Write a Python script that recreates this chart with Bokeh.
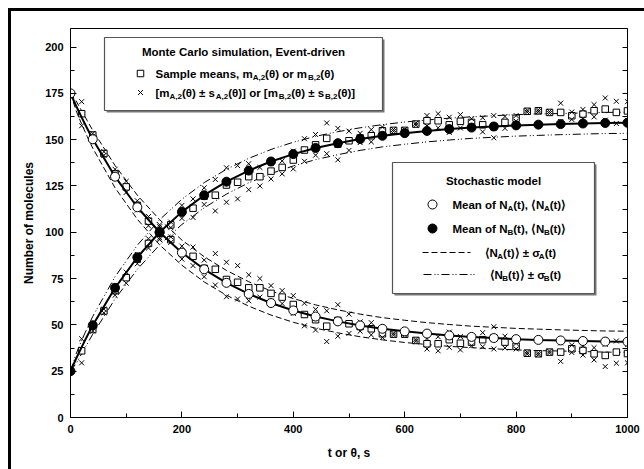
from bokeh.plotting import figure
from bokeh.models import Range1d, LinearAxis, SingleIntervalTicker, FixedTicker
from bokeh.core.properties import value
from bokeh.embed import file_html
from bokeh.resources import INLINE

# ---------------- data ----------------
# Stochastic model: mean of N_A(t), N_B(t) (markers every 40 s)
t_mean = [0, 40, 80, 120, 160, 200, 240, 280, 320, 360, 400, 440, 480, 520, 560,
          600, 640, 680, 720, 760, 800, 840, 880, 920, 960, 1000]
na_mean = [175.0, 150.2, 130.0, 113.5, 100.0, 89.0, 80.0, 72.7, 66.7, 61.8, 57.8, 54.5, 51.9,
           49.7, 47.9, 46.5, 45.3, 44.3, 43.5, 42.9, 42.3, 41.9, 41.6, 41.3, 41.0, 40.9]
nb_mean = [25.0, 49.8, 70.0, 86.5, 100.0, 111.0, 120.0, 127.3, 133.3, 138.2, 142.2, 145.5, 148.1,
           150.3, 152.1, 153.5, 154.7, 155.7, 156.5, 157.1, 157.7, 158.1, 158.4, 158.7, 159.0, 159.1]

# Stochastic model curves and standard deviation band
t_band = [0, 10, 20, 30, 40, 80, 120, 160, 200, 240, 280, 320, 360, 400, 440, 480, 520,
          560, 600, 640, 680, 720, 760, 800, 840, 880, 920, 960, 1000]
na_band = [175.0, 168.3, 162.0, 156.0, 150.2, 130.0, 113.5, 100.0, 89.0, 80.0, 72.7, 66.7, 61.8,
           57.8, 54.5, 51.9, 49.7, 47.9, 46.5, 45.3, 44.3, 43.5, 42.9, 42.3, 41.9, 41.6, 41.3, 41.0, 40.9]
nb_band = [25.0, 31.7, 38.0, 44.0, 49.8, 70.0, 86.5, 100.0, 111.0, 120.0, 127.3, 133.3, 138.2,
           142.2, 145.5, 148.1, 150.3, 152.1, 153.5, 154.7, 155.7, 156.5, 157.1, 157.7, 158.1, 158.4,
           158.7, 159.0, 159.1]
sigma_band = [0.0, 2.6, 3.6, 4.3, 4.8, 6.0, 6.5, 6.8, 6.8, 6.8, 6.7, 6.6, 6.5, 6.4, 6.3, 6.2, 6.1,
              6.0, 6.0, 5.9, 5.9, 5.8, 5.8, 5.8, 5.8, 5.7, 5.7, 5.7, 5.7]

# Monte Carlo simulation (event-driven): sample means and sample std devs, every 20 s
t_mc = [20, 40, 60, 80, 100, 120, 140, 160, 180, 200, 220, 240, 260, 280, 300, 320, 340, 360,
        380, 400, 420, 440, 460, 480, 500, 520, 540, 560, 580, 600, 620, 640, 660, 680, 700, 720,
        740, 760, 780, 800, 820, 840, 860, 880, 900, 920, 940, 960, 980, 1000]
mc_a_mean = [164.0, 152.5, 142.5, 131.5, 124.5, 114.5, 106.0, 99.5, 96.0, 89.0,
             87.0, 80.5, 80.0, 74.5, 73.0, 70.0, 70.0, 67.0, 65.0, 61.0,
             55.6, 52.8, 49.3, 52.4, 50.6, 49.1, 47.9, 45.2, 45.0, 45.0,
             41.6, 39.8, 39.8, 42.0, 40.1, 40.7, 42.0, 43.0, 40.7, 38.5,
             34.7, 34.4, 35.3, 35.3, 37.1, 36.2, 34.4, 33.5, 35.3, 34.5]
mc_a_sd = [6.5, 0.8, 1.0, 2.5, 3.0, 2.5, 2.5, 3.5, 1.5, 3.5,
           5.0, 4.5, 8.5, 9.3, 9.0, 7.0, 5.0, 4.2, 3.5, 4.8,
           6.1, 5.6, 8.3, 8.5, 5.2, 2.5, 3.3, 2.0, 0.5, 0.5,
           0.5, 2.8, 3.8, 4.1, 3.6, 2.0, 3.8, 6.0, 3.2, 1.5,
           0.5, 0.5, 0.5, 5.0, 2.0, 2.5, 3.3, 6.0, 6.0, 5.0]
mc_b_mean = [36.0, 47.5, 57.5, 68.5, 75.5, 85.5, 94.0, 100.5, 104.0, 111.0,
             113.0, 119.5, 120.0, 125.5, 127.0, 130.0, 130.0, 133.0, 135.0, 139.0,
             144.4, 147.2, 150.7, 147.6, 149.4, 150.9, 152.1, 154.8, 155.0, 155.0,
             158.4, 160.2, 160.2, 158.0, 159.9, 159.3, 158.0, 157.0, 159.3, 161.5,
             165.3, 165.6, 164.7, 164.7, 162.9, 163.8, 165.6, 166.5, 164.7, 165.5]
mc_b_sd = [6.5, 0.8, 1.0, 2.5, 3.0, 2.5, 2.5, 3.5, 1.5, 3.5,
           5.0, 4.5, 8.5, 9.3, 9.0, 7.0, 5.0, 4.2, 3.5, 4.8,
           6.1, 5.6, 8.3, 8.5, 5.2, 2.5, 3.3, 2.0, 0.5, 0.5,
           0.5, 2.8, 3.8, 4.1, 3.6, 2.0, 3.8, 6.0, 3.2, 1.5,
           0.5, 0.5, 0.5, 5.0, 2.0, 2.5, 3.3, 6.0, 6.0, 5.0]

x_label = "t or θ, s"
y_label = "Number of molecules"

# ---------------- figure ----------------
FONT = "Liberation Sans"
FW, FH = 557, 389
BL, BR, BT, BB = 59, 17, 17, 52
XMAX, YMAX = 1000, 210

p = figure(frame_width=FW, frame_height=FH,
           x_range=Range1d(0, XMAX), y_range=Range1d(0, YMAX),
           output_backend="svg", toolbar_location=None,
           min_border_left=BL, min_border_right=BR, min_border_top=BT, min_border_bottom=BB)
p.margin = (8, 0, 0, 8)
p.styles = {"border-left": "3px solid black", "border-top": "3px solid black"}
p.xgrid.visible = False
p.ygrid.visible = False
p.outline_line_color = "black"
p.outline_line_width = 1
p.background_fill_color = "white"
p.border_fill_color = "white"

def style_axis(ax):
    ax.major_tick_in = 6
    ax.major_tick_out = 0
    ax.minor_tick_in = 4
    ax.minor_tick_out = 0
    ax.axis_line_color = "black"
    ax.major_tick_line_color = "black"
    ax.minor_tick_line_color = "black"
    ax.major_label_text_font = FONT
    ax.major_label_text_font_style = "bold"
    ax.major_label_text_font_size = "11px"
    ax.major_label_text_color = "black"
    ax.axis_label_text_font = FONT
    ax.axis_label_text_font_style = "bold"
    ax.axis_label_text_font_size = "12px"
    ax.axis_label_text_color = "black"

xa = p.xaxis[0]
style_axis(xa)
xa.ticker = SingleIntervalTicker(interval=200, num_minor_ticks=2)
xa.axis_label = x_label
xa.major_label_standoff = 7
xa.axis_label_standoff = 10
ya = p.yaxis[0]
style_axis(ya)
ya.ticker = SingleIntervalTicker(interval=25, num_minor_ticks=2)
ya.axis_label = y_label
ya.major_label_standoff = 7
ya.axis_label_standoff = 6

# right-hand axis: tick marks only (no labels)
rax = LinearAxis(ticker=FixedTicker(ticks=[], minor_ticks=[i * 12.5 for i in range(17)]))
style_axis(rax)
rax.minor_tick_in = 5
rax.major_label_standoff = 0
p.add_layout(rax, "right")

# pixel helpers for legend layout (page px -> data)
FL, FTOP = 70, 28
def X(px):
    return (px - FL) * XMAX / FW
def Y(py):
    return (FTOP + FH - py) * YMAX / FH

# legend boxes (drawn first; no data falls inside them)
for (l, r, t, b) in [(104, 382, 37, 110), (392, 594, 162, 293)]:
    p.quad(left=[X(l + 2)], right=[X(r + 2)], top=[Y(t + 2)], bottom=[Y(b + 2)],
           fill_color="#777777", line_color=None)
    p.quad(left=[X(l)], right=[X(r)], top=[Y(t)], bottom=[Y(b)],
           fill_color="white", line_color="#555555", line_width=1.2)

# stochastic +- sigma bands
na_up = [m + s for m, s in zip(na_band, sigma_band)]
na_lo = [m - s for m, s in zip(na_band, sigma_band)]
nb_up = [m + s for m, s in zip(nb_band, sigma_band)]
nb_lo = [m - s for m, s in zip(nb_band, sigma_band)]
DASH = "6 3"
DASHDOT = "8 3 1 2 1 3"
for ys in (na_up, na_lo):
    p.line(t_band, ys, line_color="black", line_width=1, line_dash=DASH)
for ys in (nb_up, nb_lo):
    p.line(t_band, ys, line_color="black", line_width=1, line_dash=DASHDOT)

# Monte Carlo sample means and mean +- sd
for mean, sd in ((mc_a_mean, mc_a_sd), (mc_b_mean, mc_b_sd)):
    p.scatter(t_mc, mean, marker="square", size=6.5, fill_color="white",
              line_color="black", line_width=1)
    p.scatter(t_mc, [m + s for m, s in zip(mean, sd)], marker="x", size=7,
              line_color="black", line_width=1)
    p.scatter(t_mc, [m - s for m, s in zip(mean, sd)], marker="x", size=7,
              line_color="black", line_width=1)

# stochastic mean curves
p.line(t_band, na_band, line_color="black", line_width=2)
p.line(t_band, nb_band, line_color="black", line_width=2)
p.scatter(t_mean, na_mean, marker="circle", size=9, fill_color="white",
          line_color="black", line_width=1)
p.scatter(t_mean, nb_mean, marker="circle", size=9, fill_color="black",
          line_color="black", line_width=1)

# ---------------- legends ----------------
CW = {' ': 278, '(': 333, ')': 333, ',': 278, '-': 333, '.': 278, '[': 333, ']': 333,
      '±': 549, '⟨': 390, '⟩': 390, 'θ': 611, 'σ': 618,
      'A': 722, 'B': 722, 'C': 722, 'E': 667, 'M': 833, 'N': 722, 'S': 667,
      'a': 556, 'c': 556, 'd': 611, 'e': 556, 'f': 333, 'h': 611, 'i': 278, 'l': 278,
      'm': 889, 'n': 611, 'o': 611, 'p': 611, 'r': 389, 's': 556, 't': 333, 'u': 611,
      'v': 556, 'x': 556, 'y': 556}
for d in '0123456789':
    CW[d] = 556

def tw(s, fs):
    return sum(CW.get(c, 556) for c in s) * fs / 1000.0

TXT = {}
def add(fs, x, y, s):
    TXT.setdefault(fs, ([], [], []))
    TXT[fs][0].append(x)
    TXT[fs][1].append(y)
    TXT[fs][2].append(s)

MAIN, SUB = 11.5, 8.0
def rich(x_px, y_px, segs):
    x = x_px
    for s, is_sub in segs:
        fs = SUB if is_sub else MAIN
        add(fs, X(x), Y(y_px + (3.5 if is_sub else 0)), s)
        x += tw(s, fs)

n, b = False, True
rich(155, 73, [("Sample means, m", n), ("A,2", b), ("(θ) or m", n), ("B,2", b), ("(θ)", n)])
rich(155, 92, [("[m", n), ("A,2", b), ("(θ) ± s", n), ("A,2", b), ("(θ)] or [m", n), ("B,2", b),
               ("(θ) ± s", n), ("B,2", b), ("(θ)]", n)])
rich(452, 204, [("Mean of N", n), ("A", b), ("(t), ⟨N", n), ("A", b), ("(t)⟩", n)])
rich(452, 228, [("Mean of N", n), ("B", b), ("(t), ⟨N", n), ("B", b), ("(t)⟩", n)])
rich(484, 252, [("⟨N", n), ("A", b), ("(t)⟩ ± σ", n), ("A", b), ("(t)", n)])
rich(489, 274, [("⟨N", n), ("B", b), ("(t)⟩ ± σ", n), ("B", b), ("(t)", n)])

for fs, (xs, ys, ts) in TXT.items():
    p.text(x=xs, y=ys, text=ts, text_font=value(FONT), text_font_style="bold",
           text_font_size=value(f"{fs}px"), text_baseline="middle", text_align="left",
           text_color="black")

titles = ["Monte Carlo simulation, Event-driven", "Stochastic model"]
p.text(x=[X(243), X(493)], y=[Y(51), Y(180)], text=titles, text_font=value(FONT),
       text_font_style="bold", text_font_size=value("11.5px"), text_baseline="middle",
       text_align="center", text_color="black")

# legend symbols
p.scatter([X(140)], [Y(73)], marker="square", size=6.5, fill_color="white", line_color="black")
p.scatter([X(140)], [Y(92)], marker="x", size=7, line_color="black")
p.scatter([X(432)], [Y(204)], marker="circle", size=9, fill_color="white", line_color="black")
p.scatter([X(432)], [Y(228)], marker="circle", size=9, fill_color="black", line_color="black")
p.line([X(422), X(470)], [Y(252), Y(252)], line_color="black", line_width=1, line_dash=DASH)
p.line([X(423), X(475)], [Y(274), Y(274)], line_color="black", line_width=1, line_dash=DASHDOT)

open("out.html", "w").write(file_html(p, INLINE))
